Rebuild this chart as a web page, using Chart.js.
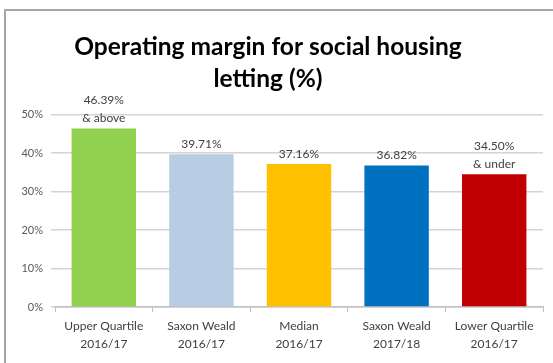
<!DOCTYPE html>
<html>
<head>
<meta charset="utf-8">
<script src="https://cdn.jsdelivr.net/npm/chart.js@4.4.0/dist/chart.umd.min.js"></script>
<style>
    html, body { margin: 0; padding: 0; background: #fff; overflow: hidden; }
    #frame { position: absolute; left: 4px; top: 9px; width: 600px; height: 400px; border: 2px solid #a6a6a6; }
    #wrap { position: absolute; left: -21px; top: 0; width: 574px; height: 363px; }
</style>
</head>
<body>
<div id="frame"></div>
<div id="wrap"><canvas id="barChart"></canvas></div>
<script>
const categories = [
    ['Upper Quartile', '2016/17'],
    ['Saxon Weald', '2016/17'],
    ['Median', '2016/17'],
    ['Saxon Weald', '2017/18'],
    ['Lower Quartile', '2016/17']
];
const margins = [46.39, 39.71, 37.16, 36.82, 34.50];
const valueLabels = [
    ['46.39%', '& above'],
    ['39.71%'],
    ['37.16%'],
    ['36.82%'],
    ['34.50%', '& under']
];
const barColors = ['#92d050', '#b8cce4', '#ffc000', '#0070c0', '#c00000'];

// draws the value text above each bar
const valueLabelPlugin = {
    id: 'valueLabels',
    afterDatasetsDraw(chart) {
        const ctx = chart.ctx;
        const bars = chart.getDatasetMeta(0).data;
        ctx.save();
        ctx.font = '12px Lato';
        ctx.fillStyle = '#404040';
        ctx.textAlign = 'center';
        ctx.textBaseline = 'bottom';
        bars.forEach((bar, i) => {
            const lines = valueLabels[i];
            for (let j = 0; j < lines.length; j++) {
                const y = bar.y - 4 - (lines.length - 1 - j) * 18;
                ctx.fillText(lines[j], bar.x, y);
            }
        });
        ctx.restore();
    }
};

new Chart(document.getElementById('barChart'), {
    type: 'bar',
    data: {
        labels: categories,
        datasets: [{
            data: margins,
            backgroundColor: barColors,
            barPercentage: 0.66,
            categoryPercentage: 1
        }]
    },
    options: {
        responsive: true,
        maintainAspectRatio: false,
        animation: false,
        layout: { padding: { left: 14, right: 10, top: 31, bottom: 5 } },
        plugins: {
            legend: { display: false },
            tooltip: { enabled: false },
            title: {
                display: true,
                text: ['Operating margin for social housing', 'letting (%)'],
                color: '#000',
                font: { family: 'Lato', size: 24.5, weight: 'bold', lineHeight: 1.3 },
                padding: { top: 0, bottom: 20 }
            }
        },
        scales: {
            x: {
                grid: { display: true, drawOnChartArea: false, offset: true, tickLength: 5, color: '#bfbfbf' },
                border: { color: '#bfbfbf', width: 1.5 },
                ticks: { color: '#404040', font: { family: 'Lato', size: 12, lineHeight: 1.5 }, padding: 5 }
            },
            y: {
                min: 0,
                max: 50,
                afterFit: scale => { scale.width = 62; },
                ticks: {
                    stepSize: 10,
                    color: '#595959',
                    font: { family: 'Lato', size: 11 },
                    padding: 8,
                    callback: v => v + '%'
                },
                grid: { color: '#d4d4d4', lineWidth: 1.5, tickLength: 4 },
                border: { display: false }
            }
        }
    },
    plugins: [valueLabelPlugin]
});
</script>
</body>
</html>
